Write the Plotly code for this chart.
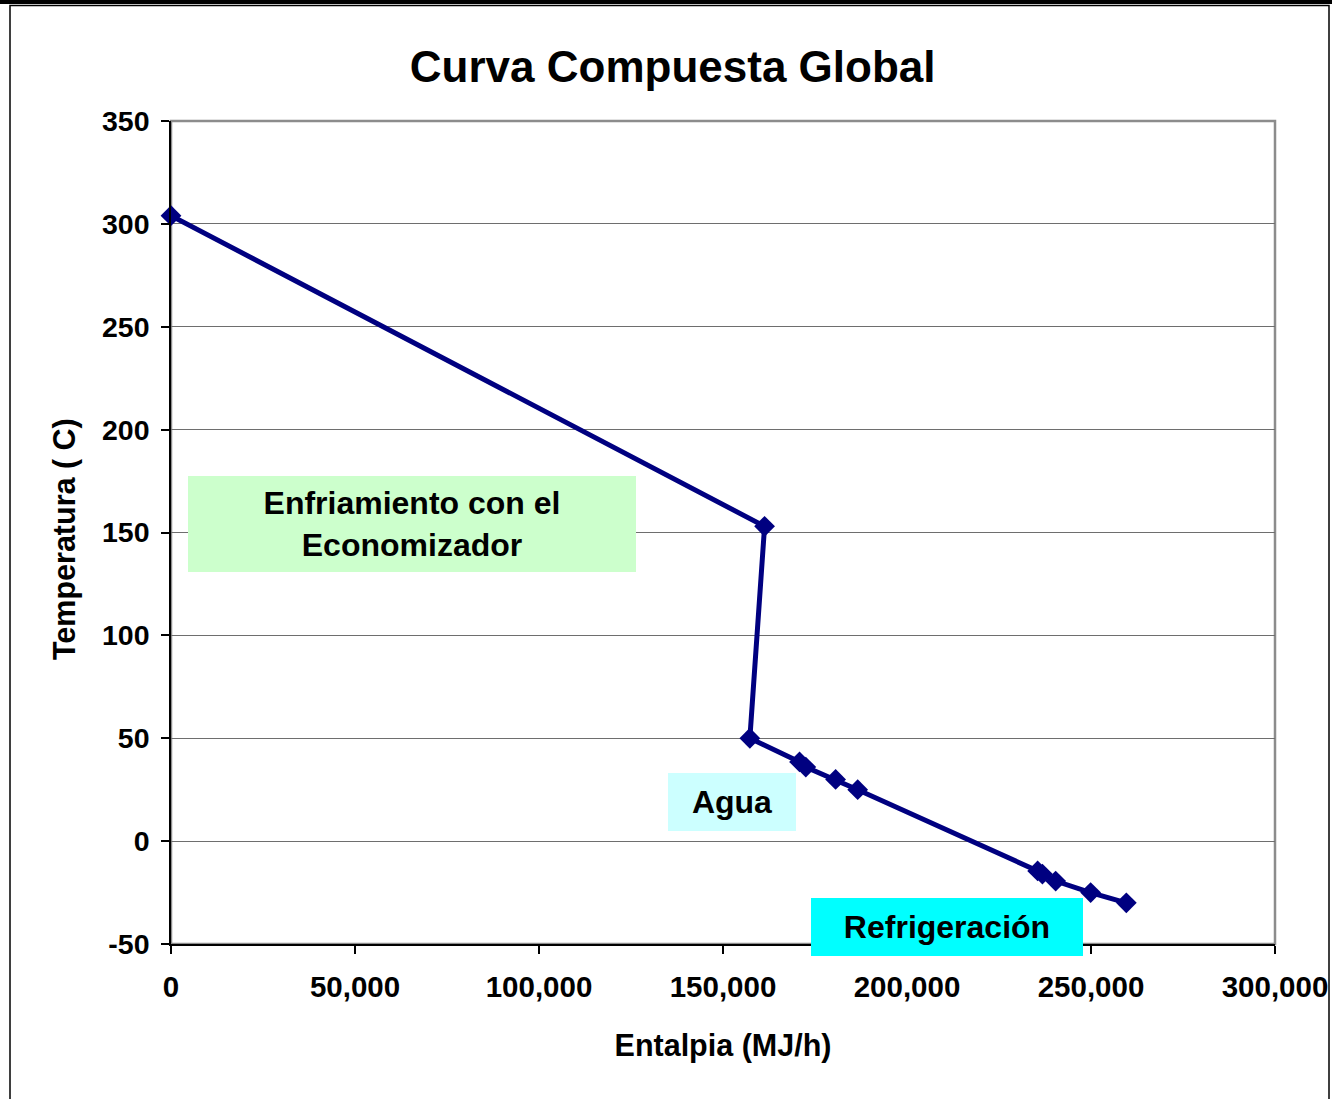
import plotly.graph_objects as go

# Grand composite curve: enthalpy (MJ/h) vs. shifted temperature (C)
entalpia = [0, 161300, 157300, 170800, 172500, 180600, 186600,
            235500, 236800, 240400, 249900, 259600]
temperatura = [304, 153, 50, 38.5, 36, 30, 25,
               -14.5, -16, -19.4, -25, -30]

x_ticks = [0, 50000, 100000, 150000, 200000, 250000, 300000]
x_labels = ["0", "50,000", "100,000", "150,000", "200,000", "250,000", "300,000"]
y_ticks = [-50, 0, 50, 100, 150, 200, 250, 300, 350]
y_labels = ["-50", "0", "50", "100", "150", "200", "250", "300", "350"]

# Region labels: (text, x centre, y centre, box width px, box height px, fill)
zonas = [
    ("Enfriamiento con el<br>Economizador", 65450, 154.2, 448, 96, "#CCFFCC"),
    ("Agua", 152400, 19.0, 128, 58, "#CCFFFF"),
    ("Refrigeración", 211000, -41.7, 272, 58, "#00FFFF"),
]

FONT = "Liberation Sans, Arial, sans-serif"
W, H = 1332, 1099
ML, MR, MT, MB = 171, 57, 121, 155
PW, PH = W - ML - MR, H - MT - MB


def px_x(p):
    return (p - ML) / PW


def px_y(p):
    return (H - MB - p) / PH


fig = go.Figure()
fig.add_trace(go.Scatter(
    x=entalpia, y=temperatura, mode="lines+markers",
    line=dict(color="#000080", width=5),
    marker=dict(symbol="diamond", size=16, color="#000080"),
    showlegend=False, cliponaxis=False,
))

for texto, xc, yc, bw, bh, color in zonas:
    fig.add_annotation(
        x=xc, y=yc, xref="x", yref="y", text=texto, showarrow=False,
        xanchor="center", yanchor="middle", width=bw, height=bh,
        bgcolor=color, borderpad=0, borderwidth=0, align="center",
        font=dict(family=FONT, size=32, color="black", weight="bold"),
    )

# vertical axis title, placed as free text
fig.add_annotation(
    x=px_x(64), y=px_y(539), xref="paper", yref="paper",
    text="Temperatura ( C)", showarrow=False, textangle=-90,
    xanchor="center", yanchor="middle",
    font=dict(family=FONT, size=30.5, color="black", weight="bold"),
)

shapes = [
    # grey plot-area frame (top and right edges show)
    dict(type="rect", xref="paper", yref="paper", x0=0, x1=1, y0=0, y1=1,
         line=dict(color="#8c8c8c", width=2.5), layer="below"),
    # page frame
    dict(type="rect", xref="paper", yref="paper",
         x0=px_x(10), x1=px_x(1329), y0=px_y(1110), y1=px_y(5.5),
         line=dict(color="black", width=1.5)),
    dict(type="rect", xref="paper", yref="paper",
         x0=px_x(-5), x1=px_x(1340), y0=px_y(4), y1=px_y(-5),
         line=dict(width=0), fillcolor="black"),
]

fig.update_layout(
    width=W, height=H,
    margin=dict(l=ML, r=MR, t=MT, b=MB, autoexpand=False),
    paper_bgcolor="white", plot_bgcolor="white",
    shapes=shapes,
    title=dict(
        text="Curva Compuesta Global", x=0.505, xref="container", xanchor="center",
        y=1 - 67 / H, yref="container", yanchor="middle",
        font=dict(family=FONT, size=44, color="black", weight="bold"),
    ),
    font=dict(family=FONT, color="black"),
)

fig.update_xaxes(
    range=[0, 300000], tickvals=x_ticks, ticktext=x_labels, automargin=False,
    showgrid=False, zeroline=False,
    showline=True, linecolor="black", linewidth=1.5,
    ticks="outside", ticklen=8, tickcolor="black", tickwidth=1.5,
    ticklabelstandoff=8,
    tickfont=dict(family=FONT, size=29.5, color="black", weight="bold"),
    title=dict(text="Entalpia (MJ/h)", standoff=32,
               font=dict(family=FONT, size=30.5, color="black", weight="bold")),
)
fig.update_yaxes(
    range=[-50, 350], tickvals=y_ticks, ticktext=y_labels, automargin=False,
    showgrid=True, gridcolor="#6e6e6e", gridwidth=1, zeroline=False,
    showline=True, linecolor="black", linewidth=1.5,
    ticks="outside", ticklen=8, tickcolor="black", tickwidth=1.5,
    ticklabelstandoff=6,
    tickfont=dict(family=FONT, size=28.5, color="black", weight="bold"),
)

fig.write_html("out.html")
